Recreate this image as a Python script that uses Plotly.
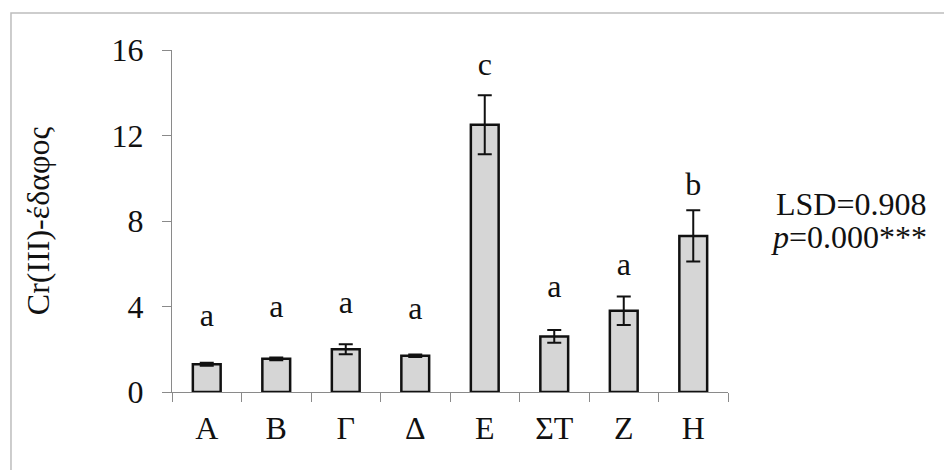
import plotly.graph_objects as go

categories = ["Α", "Β", "Γ", "Δ", "Ε", "ΣΤ", "Ζ", "Η"]
values = [1.3, 1.55, 2.0, 1.7, 12.5, 2.6, 3.8, 7.3]
errors = [0.07, 0.06, 0.23, 0.06, 1.38, 0.3, 0.67, 1.2]
letters = ["a", "a", "a", "a", "c", "a", "a", "b"]
letter_y = [3.48, 3.9, 4.08, 3.8, 15.2, 4.8, 5.87, 9.58]
y_ticks = [0, 4, 8, 12, 16]
y_title = "Cr(III)-έδαφος"
lsd_text = "LSD=0.908"
p_text = "<i>p</i>=0.000***"

FONT = "Liberation Serif, Times New Roman, serif"
FS = 32

fig = go.Figure()
fig.add_trace(go.Bar(
    x=categories, y=values,
    marker=dict(color="#d6d6d6", line=dict(color="#111111", width=2.5)),
    error_y=dict(type="data", array=errors, visible=True,
                 color="#111111", thickness=2, width=7),
    showlegend=False,
))

fig.add_trace(go.Scatter(
    x=categories, y=letter_y, mode="text", text=letters,
    textfont=dict(family=FONT, size=FS, color="#111111"),
    textposition="middle center", showlegend=False, hoverinfo="skip",
))

fig.update_layout(
    width=944, height=462,
    margin=dict(l=164, r=224, t=42, b=78),
    paper_bgcolor="white", plot_bgcolor="white",
    bargap=0.6,
    font=dict(family=FONT, size=FS, color="#111111"),
    xaxis=dict(
        type="category", showline=True, linecolor="#8a8a8a", linewidth=1.2,
        ticks="outside", tickson="boundaries", ticklen=9, tickcolor="#8a8a8a",
        tickwidth=1.2, showgrid=False, zeroline=False,
        tickfont=dict(family=FONT, size=FS, color="#111111"),
        ticklabelstandoff=7,
    ),
    yaxis=dict(
        range=[0, 16], tickvals=y_ticks, showline=True, linecolor="#8a8a8a",
        linewidth=1.2, ticks="outside", ticklen=9, tickcolor="#8a8a8a",
        tickwidth=1.2, showgrid=False, zeroline=False,
        tickfont=dict(family=FONT, size=FS, color="#111111"),
        ticklabelstandoff=12,
        title=dict(text=y_title, font=dict(family=FONT, size=FS, color="#111111"),
                   standoff=52),
    ),
    annotations=[
        dict(text=lsd_text, xref="paper", yref="paper",
             x=1.3615, y=0.5497, xanchor="right", yanchor="middle",
             align="right", showarrow=False,
             font=dict(family=FONT, size=FS, color="#111111")),
        dict(text=p_text, xref="paper", yref="paper",
             x=1.3615, y=0.4532, xanchor="right", yanchor="middle",
             align="right", showarrow=False,
             font=dict(family=FONT, size=FS, color="#111111")),
    ],
    shapes=[dict(
        type="rect", xref="paper", yref="paper",
        x0=-0.2896, x1=1.45, y0=-0.3, y1=1.108,
        line=dict(color="#bdbdbd", width=1.5), fillcolor="rgba(0,0,0,0)",
        layer="below",
    )],
)

fig.write_html("out.html")
